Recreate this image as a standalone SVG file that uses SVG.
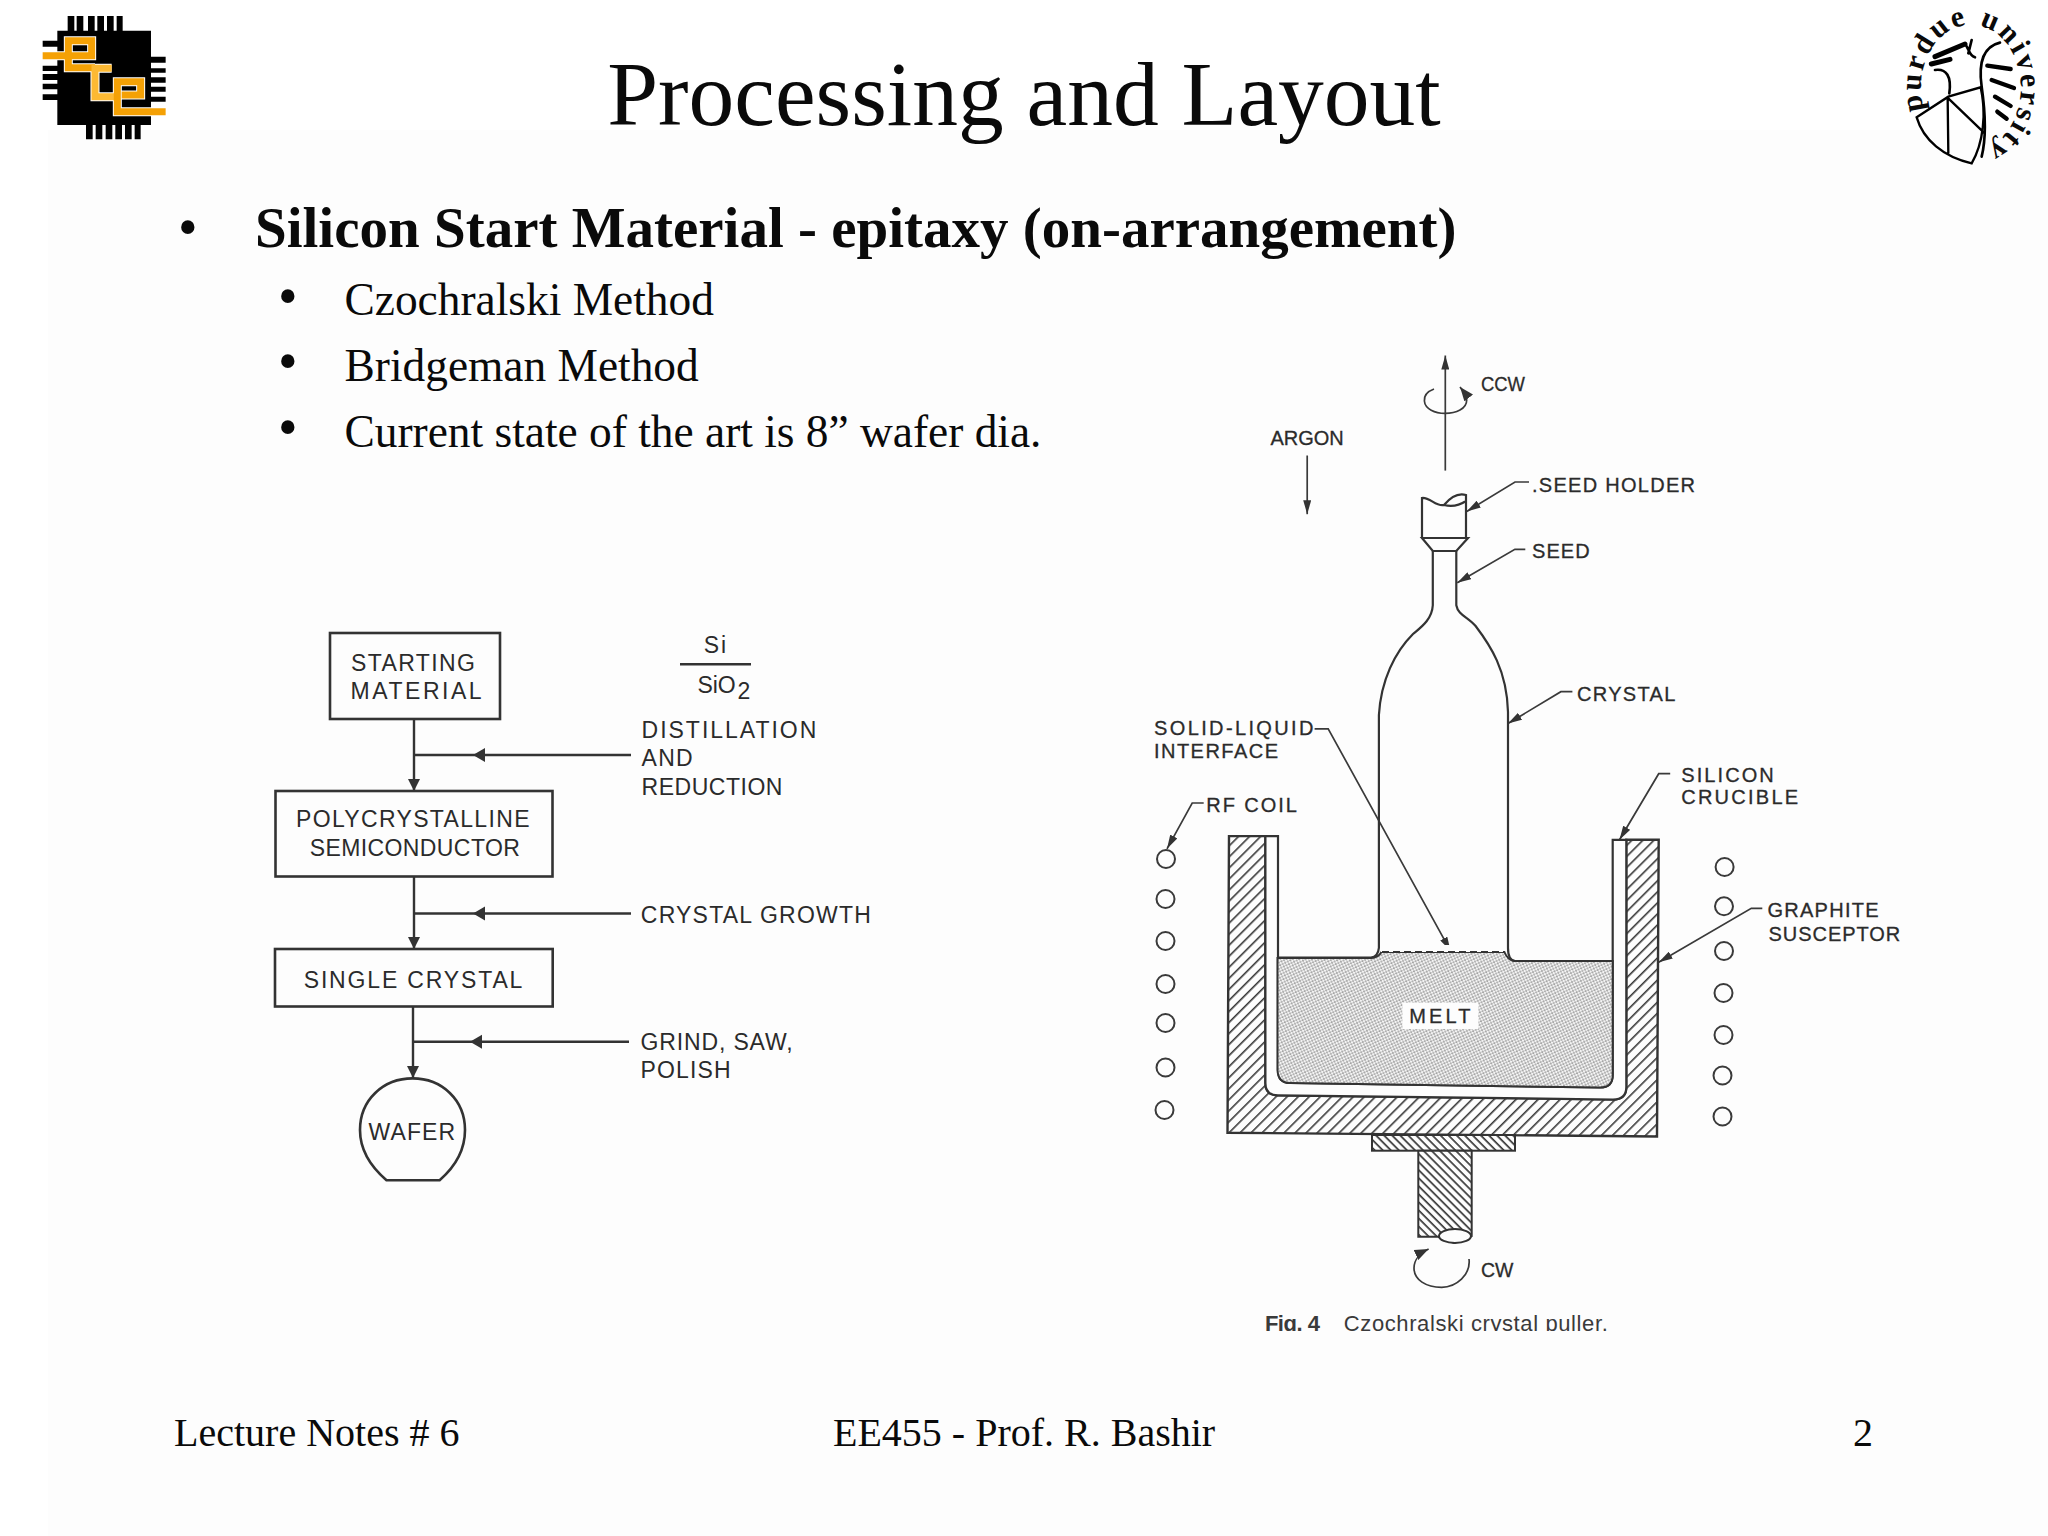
<svg xmlns="http://www.w3.org/2000/svg" width="2048" height="1536" viewBox="0 0 2048 1536">
<style>
.t{font-family:"Liberation Serif","Times New Roman",serif;fill:#0a0a0a}
.d{font-family:"Liberation Sans",Arial,sans-serif;font-size:23px;fill:#2b2b2b}
.p{font-family:"Liberation Sans",Arial,sans-serif;font-size:20px;fill:#2b2b2b;stroke:#2b2b2b;stroke-width:.3}
.s{font-family:"Liberation Sans",Arial,sans-serif;font-size:22px;fill:#3a3a3a}
.b{fill:#fdfdfd;stroke:#333;stroke-width:2.6}
.l{fill:none;stroke:#333;stroke-width:2.4}
.f{fill:none;stroke:#3a3a3a;stroke-width:1.7}
.w{fill:none;stroke:#333;stroke-width:2.2}
.c{fill:#fdfdfd;stroke:#3a3a3a;stroke-width:2}
</style>
<defs>
<marker id="a" markerWidth="12" markerHeight="12" refX="10" refY="5" orient="auto" markerUnits="userSpaceOnUse" viewBox="0 0 10 10"><path d="M0 0L10 5L0 10Z" fill="#333"/></marker>
<marker id="n" markerWidth="14" markerHeight="8" refX="14" refY="4" orient="auto" markerUnits="userSpaceOnUse" viewBox="0 0 14 8"><path d="M0 0L14 4L0 8Z" fill="#333"/></marker>
<marker id="r" markerWidth="14" markerHeight="11" refX="14" refY="5.500" orient="auto" markerUnits="userSpaceOnUse" viewBox="0 0 14 11"><path d="M0 0L14 5.500L0 11Z" fill="#333"/></marker>
<pattern id="h1" width="7.800" height="7.800" patternUnits="userSpaceOnUse" patternTransform="rotate(-45)"><rect width="7.800" height="7.800" fill="#fdfdfd"/><rect width="7.800" height="1.600" fill="#3a3a3a"/></pattern>
<pattern id="h2" width="5.700" height="5.700" patternUnits="userSpaceOnUse" patternTransform="rotate(45)"><rect width="5.700" height="5.700" fill="#fdfdfd"/><rect width="5.700" height="1.700" fill="#3a3a3a"/></pattern>
<pattern id="m" width="4" height="4" patternUnits="userSpaceOnUse" patternTransform="rotate(20)"><rect width="4" height="4" fill="#f4f4f4"/><circle cx="1" cy="1" r=".85" fill="#666"/><circle cx="3" cy="3" r=".85" fill="#777"/></pattern>
<clipPath id="figclip"><rect x="1250" y="1300" width="400" height="31"/></clipPath>
</defs>
<rect width="2048" height="1536" fill="#ffffff"/>
<rect x="48" y="130" width="2000" height="1406" fill="#fdfdfd"/>

<g id="logo-ece" transform="translate(20 0) scale(.3333)">
<path fill="#000" d="M112 92H393V375H112ZM143 48h20v44h-20ZM170 48h20v44h-20ZM204 48h20v44h-20ZM232 48h20v44h-20ZM261 48h20v44h-20ZM290 48h18v44h-18ZM198 375h20v43h-20ZM227 375h20v43h-20ZM257 375h20v43h-20ZM286 375h20v43h-20ZM315 375h20v43h-20ZM344 375h18v43h-18ZM68 122h44v18h-44ZM68 197h44v16h-44ZM68 222h44v18h-44ZM68 251h44v17h-44ZM68 283h44v17h-44ZM393 170h44v18h-44ZM393 205h44v13h-44ZM393 232h44v16h-44ZM393 260h44v15h-44ZM393 290h44v15h-44Z"/>
<path fill="none" stroke="#fff" stroke-width="27" d="M100 167H215V122H145V203H225M275 205H225V290H290M437 335H292V245H362V285H305"/>
<path fill="none" stroke="#f5a105" stroke-width="21" d="M68 167H215V122H145V203H225"/>
<path fill="none" stroke="#fdb933" stroke-width="21" d="M275 205H225V290H290"/>
<path fill="none" stroke="#f5a105" stroke-width="21" d="M437 335H292V245H362V285H305"/>
</g>

<g id="logo-purdue">
<path id="seal" fill="none" d="M1924 110A50 63 0 1 1 1988 147"/>
<text class="t" font-size="30" font-weight="bold" fill="#000"><textPath href="#seal" textLength="272">purdue university</textPath></text>
<g transform="translate(1890 0) scale(.3333)" fill="none" stroke="#000" stroke-linecap="round">
<path stroke-width="7" d="M80 352L175 290L272 262C290 340 280 430 245 490C160 470 100 420 80 352ZM173 295L175 458M175 295L282 398"/>
<path stroke-width="15" d="M135 170L225 132M124 192L180 178"/>
<path stroke-width="8" d="M135 210C170 205 185 230 178 280M225 132C240 150 235 165 255 172M245 120L235 160M330 128C280 140 265 190 275 260C285 330 290 410 275 470"/>
<path stroke-width="13" d="M292 197L362 207M305 240L372 264M315 290L362 318M322 335L350 356"/>
</g>
</g>

<g id="title"><text class="t" x="1024" y="125" font-size="91.500" text-anchor="middle">Processing and Layout</text></g>
<g id="bullets">
<text class="t" x="178" y="246" font-size="56">•</text>
<text class="t" x="255" y="247" font-size="57" font-weight="bold">Silicon Start Material - epitaxy (on-arrangement)</text>
<text class="t" x="278" y="315" font-size="56">•</text><text class="t" x="344.500" y="315" font-size="45.400">Czochralski Method</text>
<text class="t" x="278" y="380" font-size="56">•</text><text class="t" x="344.500" y="381" font-size="45.400">Bridgeman Method</text>
<text class="t" x="278" y="446" font-size="56">•</text><text class="t" x="344.500" y="447" font-size="45.400">Current state of the art is 8” wafer dia.</text>
</g>
<g id="footer">
<text class="t" x="174" y="1446" font-size="40">Lecture Notes # 6</text>
<text class="t" x="833" y="1446" font-size="40">EE455 - Prof. R. Bashir</text>
<text class="t" x="1853" y="1446" font-size="40">2</text>
</g>

<g id="connectors">
<path class="l" marker-end="url(#a)" d="M414 719V791"/>
<path class="l" marker-end="url(#a)" d="M414 876V949"/>
<path class="l" marker-end="url(#a)" d="M413 1007V1078"/>
<path class="l" d="M414 755H631"/><path fill="#333" d="M473 755L485 748V762Z"/>
<path class="l" d="M414 913.500H631"/><path fill="#333" d="M473 913.500L485 906.500V920.500Z"/>
<path class="l" d="M413 1041.700H629"/><path fill="#333" d="M470 1041.700L482 1034.700V1048.700Z"/>
<path class="f" marker-end="url(#n)" d="M1445.300 470.600V355.500"/>
<path class="f" marker-end="url(#n)" d="M1307.200 455.500V514.200"/>
<path class="f" marker-end="url(#n)" d="M1529 482H1515L1466.800 511.400"/>
<path class="f" marker-end="url(#n)" d="M1525.300 549.300H1514.900L1457.300 582.800"/>
<path class="f" marker-end="url(#n)" d="M1572.400 691.700H1560.900L1508 723.500"/>
<path class="f" marker-end="url(#n)" d="M1314.600 728.800H1328.200L1450.500 950.800"/>
<path class="f" marker-end="url(#n)" d="M1203.700 803H1192.200L1167 848.800"/>
<path class="f" marker-end="url(#n)" d="M1670.200 773.700H1658.700L1619.500 839.800"/>
<path class="f" marker-end="url(#n)" d="M1762.300 908.300H1751.300L1658.700 962.200"/>
<path class="f" marker-end="url(#r)" d="M1434 389C1426 392 1424 397 1424.400 401C1425 409 1435 413.400 1445 413.400C1456 413.400 1466.700 409 1466.700 400C1466.700 396 1464 392 1460 387"/>
<path class="f" marker-end="url(#r)" d="M1469 1259C1471 1275 1456 1287.300 1441.700 1287.300C1426 1287.300 1414 1280 1414 1268C1414 1260 1420 1253 1428.600 1249"/>
</g>

<g id="starting-material"><rect class="b" x="330" y="633" width="170" height="86"/>
<text class="d" x="351" y="670.500" textLength="124">STARTING</text><text class="d" x="350.600" y="698.800" textLength="131">MATERIAL</text></g>
<g id="polycrystalline"><rect class="b" x="275.500" y="791" width="277" height="85.500"/>
<text class="d" x="296" y="826.600" textLength="233.500">POLYCRYSTALLINE</text><text class="d" x="309.800" y="856" textLength="210">SEMICONDUCTOR</text></g>
<g id="single-crystal"><rect class="b" x="275" y="949" width="277.700" height="57.500"/>
<text class="d" x="303.700" y="987.700" textLength="218.700">SINGLE CRYSTAL</text></g>
<g id="wafer"><path class="b" d="M386.500 1180.200H439.600C456 1166 465 1150 465 1130C465 1100 442 1078.400 412.600 1078.400C383 1078.400 360 1100 360 1130C360 1150 370 1166 386.500 1180.200Z"/>
<text class="d" x="368.600" y="1140.400" textLength="86.400">WAFER</text></g>
<g id="process-labels">
<text class="d" x="703.700" y="652.900" textLength="22.500">Si</text>
<path class="l" d="M680 664.300H751"/>
<text class="d" x="697.600" y="692.700" textLength="38">SiO</text><text class="d" x="737.600" y="698.800" textLength="11">2</text>
<text class="d" x="641.600" y="738.200" textLength="174.700">DISTILLATION</text>
<text class="d" x="641.600" y="765.800" textLength="51">AND</text>
<text class="d" x="641.600" y="794.800" textLength="140.800">REDUCTION</text>
<text class="d" x="640.800" y="923.400" textLength="230">CRYSTAL GROWTH</text>
<text class="d" x="640.400" y="1050" textLength="152.300">GRIND, SAW,</text>
<text class="d" x="640.400" y="1078" textLength="90.200">POLISH</text>
</g>

<g id="crucible">
<path fill="url(#h1)" stroke="#333" stroke-width="2.400" d="M1229 836.100H1265.400V1083Q1265.400 1095.300 1278 1095.300L1613 1099.500Q1626.300 1099.500 1626.300 1087V839.800H1658.700L1657 1136.500L1227.500 1132.700Z"/>
<path fill="#fdfdfd" stroke="#333" stroke-width="2.200" d="M1265.400 836.100H1278V1070Q1278 1083 1290 1083L1600 1087.500Q1612.700 1087.500 1612.700 1075V839.800H1626.300V1087Q1626.300 1099.500 1613 1099.500L1278 1095.300Q1265.400 1095.300 1265.400 1083Z"/>
</g>
<g id="melt">
<path fill="url(#m)" stroke="#333" stroke-width="2" d="M1277.500 958H1371Q1378 958 1381.500 952H1504.400Q1508 961 1515 961H1612.700V1075Q1612.700 1087.500 1600 1087.500L1290 1083Q1278 1083 1277.500 1070Z"/>
<rect x="1402.400" y="1002.600" width="76" height="26.400" fill="#fdfdfd"/>
<text class="p" x="1409.200" y="1023" textLength="61.200">MELT</text>
<path fill="#fdfdfd" d="M1381 945H1504V952H1381Z"/>
<path class="w" stroke-dasharray="7 4" d="M1382 952H1504"/>
</g>
<g id="crystal">
<path class="w" d="M1278 957.700H1371Q1378 957 1378.900 947.900V715C1381 680 1395 652 1413 634C1420 628 1432 620 1432.800 605.200V551M1456.300 551V605.200C1458 615 1468 617 1475.600 626C1490 645 1507 670 1508 712V947.900Q1508 960 1515 961H1612"/>
</g>
<g id="seed-holder">
<path class="w" d="M1432.800 551H1456.300L1468 538H1422ZM1422 538V498C1430 497 1436 507 1444 505C1449 499 1456 492 1466 495V538M1444 505C1452 507 1460 505 1466 501"/>
</g>
<g id="pedestal">
<rect x="1372" y="1135" width="143" height="15.700" fill="url(#h2)" stroke="#333" stroke-width="2"/>
<path fill="url(#h2)" stroke="#333" stroke-width="2" d="M1418.300 1150.700H1471.700V1236L1454 1243L1438 1236.700H1418.300Z"/>
<ellipse cx="1455" cy="1236" rx="16" ry="7" fill="#fdfdfd" stroke="#333" stroke-width="2"/>
</g>
<g id="rf-coil">
<circle class="c" cx="1166" cy="859" r="9"/><circle class="c" cx="1165.500" cy="899" r="9"/><circle class="c" cx="1165.500" cy="941" r="9"/><circle class="c" cx="1165.500" cy="984" r="9"/><circle class="c" cx="1165.500" cy="1023" r="9"/><circle class="c" cx="1165.500" cy="1067.500" r="9"/><circle class="c" cx="1164.500" cy="1110" r="9"/>
<circle class="c" cx="1724.600" cy="867" r="9"/><circle class="c" cx="1724" cy="906.300" r="9"/><circle class="c" cx="1724" cy="951" r="9"/><circle class="c" cx="1723.500" cy="993" r="9"/><circle class="c" cx="1723.500" cy="1035" r="9"/><circle class="c" cx="1722.500" cy="1075.500" r="9"/><circle class="c" cx="1722.500" cy="1116.500" r="9"/>
</g>
<g id="puller-labels">
<text class="p" x="1481" y="391.400" textLength="44" lengthAdjust="spacingAndGlyphs">CCW</text>
<text class="p" x="1270.600" y="444.900" textLength="73">ARGON</text>
<text class="p" x="1532" y="491.800" textLength="163">.SEED HOLDER</text>
<text class="p" x="1532" y="558.300" textLength="57.700">SEED</text>
<text class="p" x="1577" y="701" textLength="98.400">CRYSTAL</text>
<text class="p" x="1154" y="735" textLength="159.500">SOLID-LIQUID</text>
<text class="p" x="1154" y="758.200" textLength="124">INTERFACE</text>
<text class="p" x="1681.200" y="781.900" textLength="92.600">SILICON</text>
<text class="p" x="1681.200" y="803.900" textLength="117">CRUCIBLE</text>
<text class="p" x="1206.300" y="811.600" textLength="90.500">RF COIL</text>
<text class="p" x="1767.500" y="916.900" textLength="111">GRAPHITE</text>
<text class="p" x="1768.500" y="940.600" textLength="131.800">SUSCEPTOR</text>
<text class="p" x="1481" y="1277" textLength="32.400" lengthAdjust="spacingAndGlyphs">CW</text>
</g>
<g id="caption" clip-path="url(#figclip)">
<text class="s" x="1264.900" y="1331" font-weight="bold" textLength="55">Fig. 4</text>
<text class="s" x="1343.800" y="1331" textLength="264">Czochralski crystal puller.</text>
</g>
</svg>
